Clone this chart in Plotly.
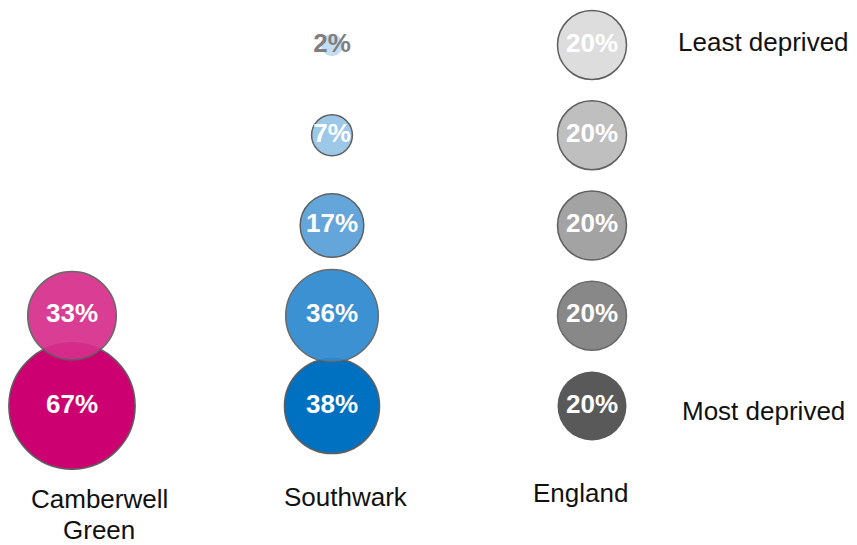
import plotly.graph_objects as go

# ---- data ----
areas = ["Camberwell<br>Green", "Southwark", "England"]
quintiles = ["Least deprived", "Quintile 2", "Quintile 3", "Quintile 4", "Most deprived"]
camberwell_green = [0, 0, 0, 33, 67]
southwark = [2, 7, 17, 36, 38]
england = [20, 20, 20, 20, 20]

# ---- styles ----
fill_colors = [
    ["#ffffff", "#ffffff", "#ffffff", "#D72F8C", "#CC0070"],
    ["#C5DDF1", "#9DC8E8", "#64A6DA", "#2E89CF", "#0070C0"],
    ["#DDDDDD", "#BFBFBF", "#A3A3A3", "#7F7F7F", "#595959"],
]
text_colors = [
    ["white"] * 5,
    ["#7F7F7F", "white", "white", "white", "white"],
    ["white"] * 5,
]
border_on = [
    [True] * 5,
    [False, True, True, True, True],
    [True, True, True, True, False],
]

series = [camberwell_green, southwark, england]

xs, ys, sizes, fills, tcols, texts, lws, ops = [], [], [], [], [], [], [], []
# draw bottom rows first so upper bubbles sit on top
for r in reversed(range(len(quintiles))):
    for c, vals in enumerate(series):
        v = vals[r]
        if v <= 0:
            continue
        xs.append(c)
        ys.append(r)
        sizes.append(v)
        fills.append(fill_colors[c][r])
        tcols.append(text_colors[c][r])
        texts.append(f"<b>{v}%</b>")
        lws.append(1.5 if border_on[c][r] else 0)
        ops.append(0.93 if r == 3 else 1.0)

PAGE = 8  # browser default body margin
W, H = 857 - PAGE, 545 - PAGE
px_per_col = 260.0
px_per_row = 90.25
x0_px, y0_px = 72.0 - PAGE, 45.0 - PAGE
k = 15.43  # px diameter per sqrt(percent)

fig = go.Figure()
fig.add_trace(go.Scatter(
    x=xs, y=ys, mode="markers+text",
    text=texts, textposition="middle center",
    textfont=dict(family="Liberation Sans, Arial, sans-serif", size=26, color=tcols),
    marker=dict(
        size=sizes, sizemode="area", sizeref=2 / (k ** 2),
        color=fills, opacity=ops,
        line=dict(color="#5F5F5F", width=lws),
    ),
    hoverinfo="skip", showlegend=False, cliponaxis=False,
))

font = dict(family="Liberation Sans, Arial, sans-serif", size=26, color="#111111")
ann = []
label_x = [99, 346, 580]
label_mid = [499, 497, 493]
line_gap = 31
for c, name in enumerate(areas):
    for i, line in enumerate(name.split("<br>")):
        ann.append(dict(x=(label_x[c] - PAGE) / W,
                        y=1 - (label_mid[c] + i * line_gap - PAGE) / H,
                        xref="paper", yref="paper",
                        text=line, showarrow=False, xanchor="center", yanchor="middle",
                        font=font, align="center", borderpad=0))
ann.append(dict(x=(676 - PAGE) / W, y=1 - (42 - PAGE) / H, xref="paper", yref="paper",
                text=quintiles[0], showarrow=False, xanchor="left", yanchor="middle", font=font))
ann.append(dict(x=(680 - PAGE) / W, y=1 - (411 - PAGE) / H, xref="paper", yref="paper",
                text=quintiles[-1], showarrow=False, xanchor="left", yanchor="middle", font=font))

fig.update_layout(
    width=W, height=H,
    margin=dict(l=0, r=0, t=0, b=0),
    paper_bgcolor="white", plot_bgcolor="white",
    xaxis=dict(range=[-x0_px / px_per_col, (W - x0_px) / px_per_col], visible=False, fixedrange=True),
    yaxis=dict(range=[(H - y0_px) / px_per_row, -y0_px / px_per_row], visible=False, fixedrange=True),
    annotations=ann,
)

fig.write_html("out.html")
